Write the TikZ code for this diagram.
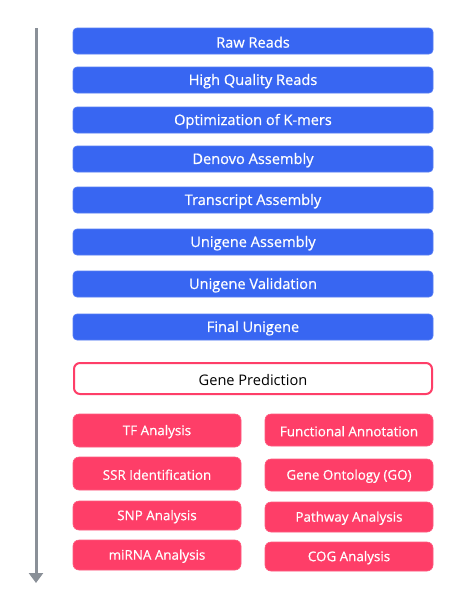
\documentclass[tikz,border=0pt]{standalone}
\usepackage{fontspec}
\setmainfont{Open Sans}
\newfontfamily\medfont{Open Sans}[FakeBold=0.6]
\usetikzlibrary{arrows.meta}
\definecolor{bluebox}{HTML}{3866F2}
\definecolor{pinkbox}{HTML}{FE3E68}
\definecolor{arrowgray}{HTML}{8A9098}
\begin{document}
\begin{tikzpicture}[x=1pt,y=-1pt,
  bluestep/.style={fill=bluebox,draw=bluebox!85!white,line width=0.6pt,rounded corners=4pt,text=white,font=\medfont\fontsize{14.6}{16}\selectfont},
  pinkstep/.style={fill=pinkbox,draw=pinkbox!85!white,line width=0.6pt,rounded corners=6pt,text=white,font=\medfont\fontsize{13.4}{15}\selectfont},
  genestep/.style={fill=white,draw=pinkbox,line width=2pt,rounded corners=6pt,text=black,font=\fontsize{14.6}{16}\selectfont},
  lbl/.style={midway,yshift=-1.2pt}]
\useasboundingbox (0,0) rectangle (448,600);
\fill[white] (0,0) rectangle (448,600);
% blue steps
\draw[bluestep] (73,28) rectangle (433,54) node[lbl] (raw) {Raw Reads};
\draw[bluestep] (73,67) rectangle (433,93) node[lbl] (hq) {High Quality Reads};
\draw[bluestep] (73,107) rectangle (433,133) node[lbl] (kmer) {Optimization of K-mers};
\draw[bluestep] (73,146) rectangle (433,172) node[lbl] (denovo) {Denovo Assembly};
\draw[bluestep] (73,187) rectangle (433,213) node[lbl] (transcript) {Transcript Assembly};
\draw[bluestep] (73,229) rectangle (433,255) node[lbl] (uniasm) {Unigene Assembly};
\draw[bluestep] (73,271) rectangle (433,297) node[lbl] (unival) {Unigene Validation};
\draw[bluestep] (73,314) rectangle (433,340) node[lbl] (final) {Final Unigene};
% gene prediction
\draw[genestep] (74,363) rectangle (432,394) node[lbl] (gene) {Gene Prediction};
% pink left
\draw[pinkstep] (73,414) rectangle (241,447) node[lbl] (tf) {TF Analysis};
\draw[pinkstep] (73,457) rectangle (241,490) node[lbl] (ssr) {SSR Identification};
\draw[pinkstep] (73,501) rectangle (241,530) node[lbl] (snp) {SNP Analysis};
\draw[pinkstep] (73,540) rectangle (241,570) node[lbl] (mirna) {miRNA Analysis};
% pink right
\draw[pinkstep] (265,414) rectangle (433,446) node[lbl] (func) {Functional Annotation};
\draw[pinkstep] (265,459) rectangle (433,491) node[lbl] (go) {Gene Ontology (GO)};
\draw[pinkstep] (265,502) rectangle (433,532) node[lbl] (path) {Pathway Analysis};
\draw[pinkstep] (265,542) rectangle (433,571) node[lbl] (cog) {COG Analysis};
% timeline arrow
\coordinate (tstart) at (36,28);
\coordinate (tend) at (36,583);
\draw[arrowgray,line width=3pt,-{Triangle[width=14pt,length=10pt]}] (tstart) -- (tend);
\end{tikzpicture}
\end{document}
